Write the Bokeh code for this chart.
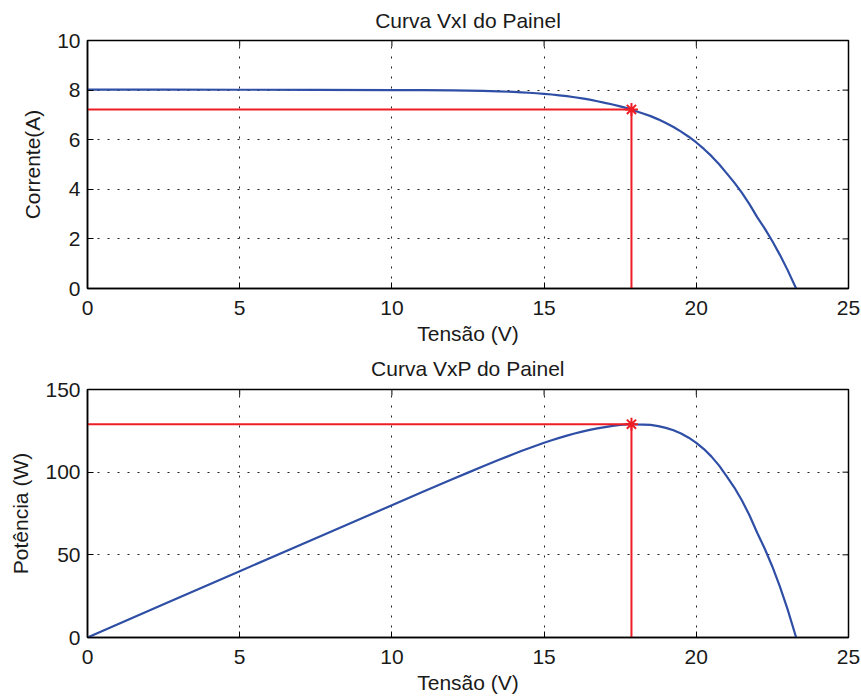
import math

from bokeh.plotting import figure
from bokeh.layouts import column
from bokeh.models import Range1d, FixedTicker
from bokeh.embed import file_html
from bokeh.resources import INLINE

# Panel I-V and P-V characteristics
voltage = [0, 2.5, 5, 7.5, 10, 11, 12, 12.5, 13, 13.5, 14, 14.25, 14.5, 14.75,
           15, 15.25, 15.5, 15.75, 16, 16.25, 16.5, 16.75, 17, 17.25, 17.5, 17.75,
           17.87, 18, 18.25, 18.5, 18.75, 19, 19.25, 19.5, 19.75, 20, 20.25, 20.5,
           20.75, 21, 21.25, 21.5, 21.75, 22, 22.25, 22.5, 22.75, 23, 23.28]
current = [8.02, 8.02, 8.015, 8.01, 8.0, 7.995, 7.985, 7.978, 7.967, 7.951, 7.927,
           7.912, 7.894, 7.874, 7.850, 7.823, 7.791, 7.754, 7.711, 7.665, 7.613,
           7.552, 7.484, 7.418, 7.345, 7.263, 7.22, 7.160, 7.058, 6.951, 6.820,
           6.674, 6.510, 6.326, 6.120, 5.888, 5.628, 5.337, 5.010, 4.643, 4.269,
           3.854, 3.393, 2.880, 2.413, 1.903, 1.347, 0.741, 0.0]
power = [0.0, 20.05, 40.08, 60.08, 80.0, 87.95, 95.82, 99.73, 103.57, 107.34,
         110.98, 112.75, 114.46, 116.14, 117.75, 119.30, 120.76, 122.13, 123.38,
         124.56, 125.61, 126.50, 127.23, 127.96, 128.54, 128.92, 129.02, 128.88,
         128.81, 128.59, 127.88, 126.81, 125.32, 123.36, 120.87, 117.76, 113.97,
         109.41, 103.96, 97.50, 90.72, 82.86, 73.80, 63.36, 53.69, 42.82, 30.64,
         17.04, 0.0]

# Maximum power point
v_mpp = 17.87
i_mpp = 7.22
p_mpp = 129.02

x_ticks = [0, 5, 10, 15, 20, 25]
i_ticks = [0, 2, 4, 6, 8, 10]
p_ticks = [0, 50, 100, 150]
x_end = 25

FONT = "Liberation Sans"
BLUE = "#2f4fa6"
RED = "#ee1c24"
TEXT = "#1a1a1a"
TICK_LEN = 6


def style_axis(ax, ticks):
    ax.ticker = FixedTicker(ticks=ticks)
    ax.axis_line_color = "black"
    ax.axis_line_width = 1.5
    ax.major_tick_in = TICK_LEN
    ax.major_tick_out = 0
    ax.major_tick_line_color = "black"
    ax.major_tick_line_width = 1
    ax.minor_tick_line_color = None
    ax.major_label_text_font = FONT
    ax.major_label_text_font_size = "21px"
    ax.major_label_text_color = TEXT
    ax.axis_label_text_font = FONT
    ax.axis_label_text_font_size = "21px"
    ax.axis_label_text_font_style = "normal"
    ax.axis_label_text_color = TEXT


def make_panel(title, ylabel, y_end, y_ticks, y_values, y_mpp,
               height, top_border, bottom_border, title_gap):
    p = figure(width=861, height=height, output_backend="svg", toolbar_location=None,
               x_range=Range1d(0, x_end), y_range=Range1d(0, y_end),
               min_border_left=87, min_border_right=13,
               min_border_top=top_border, min_border_bottom=bottom_border,
               x_axis_label="Tensão (V)", y_axis_label=ylabel)
    p.title.text = title
    p.title.align = "center"
    p.title.vertical_align = "top"
    p.title.text_font = FONT
    p.title.text_font_size = "21px"
    p.title.text_font_style = "normal"
    p.title.text_color = TEXT
    p.title.standoff = title_gap

    p.outline_line_color = "black"
    p.outline_line_width = 1.5
    p.background_fill_color = "white"
    p.border_fill_color = "white"

    style_axis(p.xaxis[0], x_ticks)
    style_axis(p.yaxis[0], y_ticks)
    p.xaxis.major_label_standoff = 12
    p.xaxis.axis_label_standoff = 4
    p.yaxis.major_label_standoff = 7
    p.yaxis.axis_label_standoff = 10

    # Inward ticks on the top and right edges of the box
    p.ray(x=x_ticks, y=[y_end] * len(x_ticks), length=TICK_LEN,
          length_units="screen", angle=-math.pi / 2,
          line_color="black", line_width=1)
    p.ray(x=[x_end] * len(y_ticks), y=y_ticks, length=TICK_LEN,
          length_units="screen", angle=math.pi,
          line_color="black", line_width=1)

    p.xgrid.ticker = FixedTicker(ticks=x_ticks)
    p.ygrid.ticker = FixedTicker(ticks=y_ticks)
    for g in (p.xgrid[0], p.ygrid[0]):
        g.grid_line_color = "#222222"
        g.grid_line_dash = "2 8"
        g.grid_line_width = 1

    p.line(voltage, y_values, line_color=BLUE, line_width=2.2)
    p.line([0, v_mpp], [y_mpp, y_mpp], line_color=RED, line_width=2)
    p.line([v_mpp, v_mpp], [y_mpp, 0], line_color=RED, line_width=2)
    p.scatter([v_mpp], [y_mpp], marker="asterisk", size=13,
              line_color=RED, line_width=2)
    return p


p_iv = make_panel("Curva VxI do Painel", "Corrente(A)", 10, i_ticks, current,
                  i_mpp, 348, 40, 60, 14)
p_pv = make_panel("Curva VxP do Painel", "Potência (W)", 150, p_ticks, power,
                  p_mpp, 348, 41, 59, 15)

layout = column(p_iv, p_pv, spacing=0)
open("out.html", "w").write(file_html(layout, INLINE))
